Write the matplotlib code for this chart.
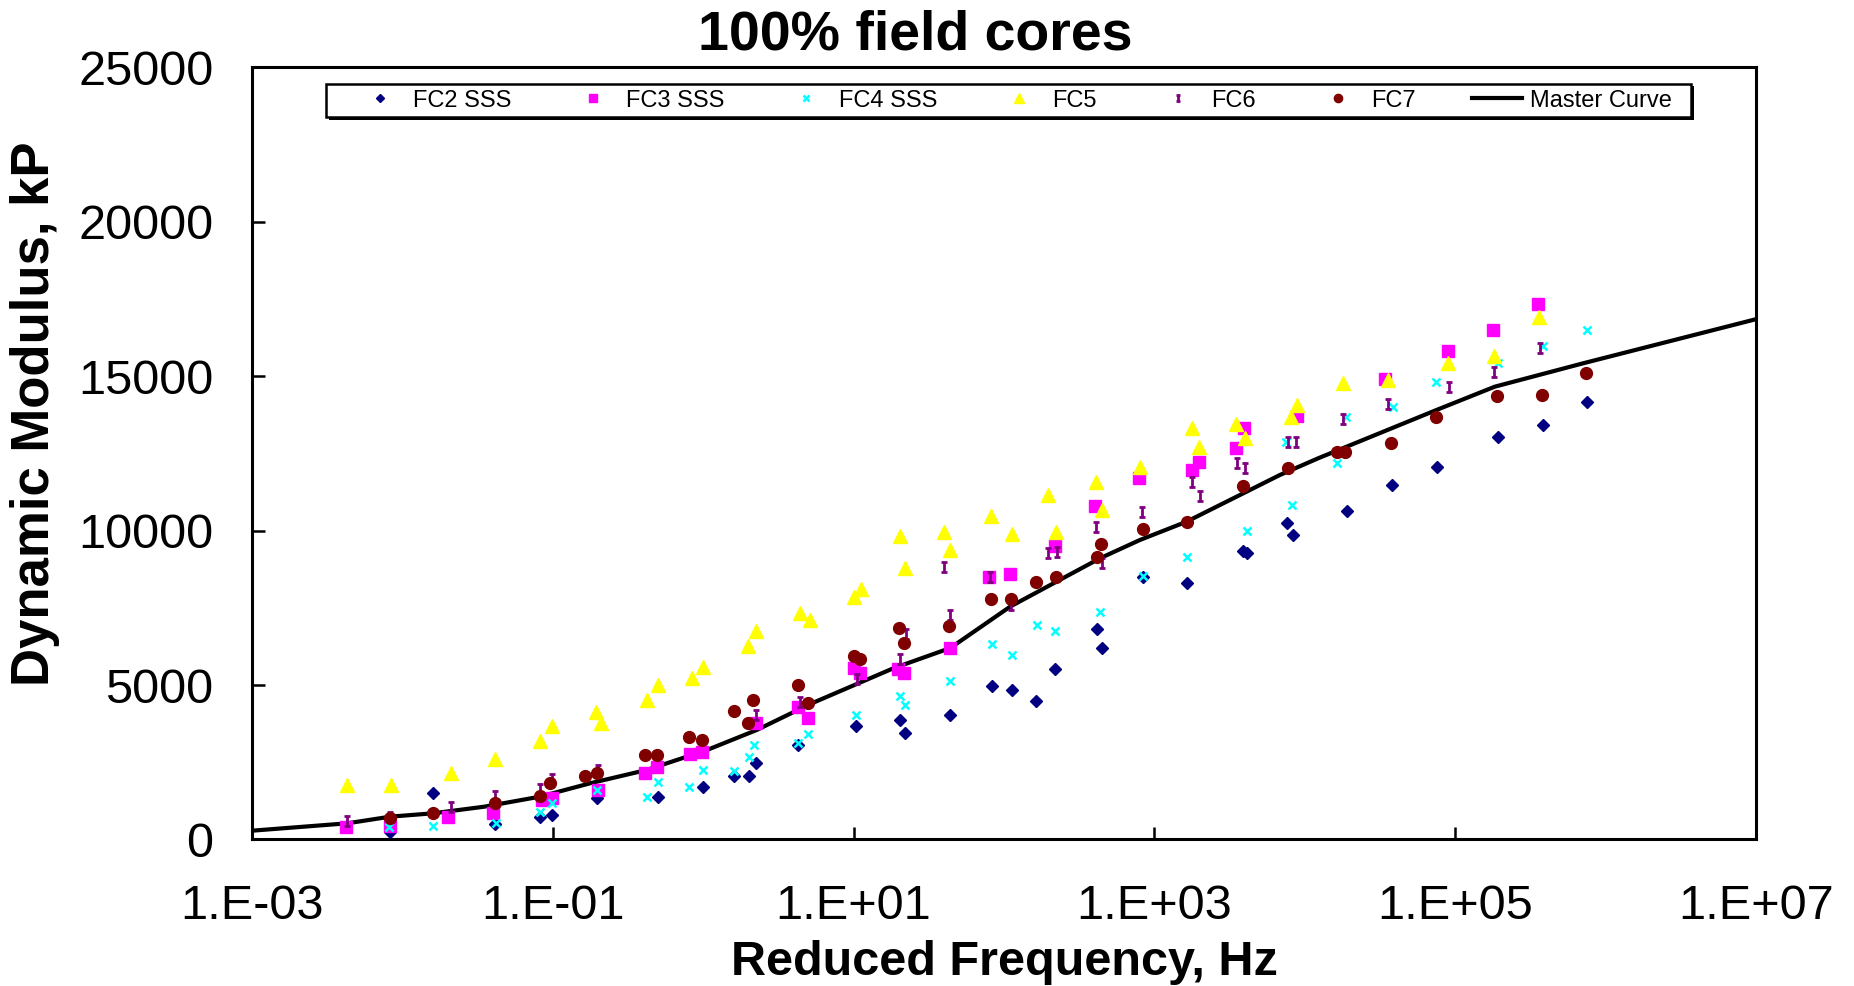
import numpy as np
import matplotlib
matplotlib.use("Agg")
import matplotlib.pyplot as plt
from matplotlib.path import Path
from matplotlib.patches import Rectangle
from matplotlib.ticker import FixedLocator, NullLocator, FuncFormatter

plt.rcParams['font.family'] = ['Liberation Sans', 'DejaVu Sans']

# --- data (reduced frequency in Hz, modulus in kP) ---
fc2_f = [0.0082, 0.016, 0.041, 0.082, 0.098, 0.196, 0.50, 1.0, 1.59, 2.03, 2.25, 4.3,
         10.3, 20.5, 22.0, 44, 83, 113, 164, 219, 414, 447, 838, 1660, 3870, 4150,
         7590, 8320, 19050, 38200, 76000, 193600, 385500, 760000]
fc2_e = [250, 1520, 490, 740, 790, 1330, 1390, 1690, 2060, 2060, 2470, 3060,
         3680, 3870, 3440, 4030, 4970, 4840, 4500, 5510, 6810, 6200, 8490, 8320, 9350, 9290,
         10260, 9860, 10650, 11480, 12070, 13020, 13420, 14180]

fc3_f = [0.0042, 0.0083, 0.020, 0.040, 0.085, 0.098, 0.20, 0.41, 0.49, 0.82, 0.98,
         2.24, 4.27, 5.0, 10.0, 11.1, 19.7, 21.7, 44, 80, 109, 219, 404, 794, 1775,
         1995, 3510, 3980, 8850, 34200, 90200, 177800, 357300]
fc3_e = [415, 450, 740, 850, 1280, 1330, 1600, 2140, 2360, 2770, 2820,
         3760, 4300, 3920, 5540, 5380, 5510, 5400, 6190, 8490, 8610, 9490, 10810, 11720, 11970,
         12230, 12670, 13320, 13720, 14900, 15830, 16500, 17340]

fc4_f = [0.0081, 0.016, 0.042, 0.082, 0.098, 0.196, 0.42, 0.50, 0.81, 1.0, 1.61, 2.03,
         2.18, 4.3, 5.0, 10.3, 20.5, 22.0, 44, 83, 113, 165, 219, 438, 838, 1660, 4110,
         7500, 8180, 16300, 18800, 38800, 75300, 193600, 385500, 757000]
fc4_e = [415, 450, 530, 900, 1180, 1600, 1370, 1870, 1710, 2250, 2230, 2680,
         3060, 3120, 3420, 4030, 4630, 4360, 5140, 6330, 5980, 6930, 6760, 7380, 8530, 9140, 9990,
         12880, 10830, 12180, 13690, 14020, 14830, 15420, 15980, 16500]

fc5_f = [0.0043, 0.0084, 0.021, 0.041, 0.082, 0.098, 0.194, 0.209, 0.42, 0.50,
         0.84, 0.99, 2.0, 2.24, 4.4, 5.1, 10.0, 11.2, 20.4, 22.0,
         40, 44, 82, 113, 197, 221, 409, 447, 804, 1775,
         1995, 3510, 4030, 8070, 8900, 17900, 36000, 90200, 181600, 363000]
fc5_e = [1765, 1765, 2160, 2590, 3180, 3660, 4140, 3760, 4520, 5000,
         5220, 5600, 6250, 6750, 7340, 7110, 7860, 8100, 9830, 8780,
         9970, 9380, 10480, 9900, 11170, 9970, 11590, 10670, 12050, 13340,
         12720, 13460, 12990, 13690, 14080, 14770, 14880, 15420, 15640, 16930]

fc6_f = [0.0043, 0.0083, 0.021, 0.041, 0.082, 0.098, 0.20, 2.24, 4.4, 10.6,
         20.5, 22.4, 40, 44, 81, 111, 197, 224, 409, 447,
         822, 1775, 2020, 3540, 4030, 7780, 8750, 18100, 36000, 91600, 182000, 366000]
fc6_e = [610, 740, 1060, 1410, 1630, 1950, 2250, 4030, 4460, 5190,
         5840, 6650, 8820, 7270, 8490, 7590, 9290, 9300, 10110, 8940,
         10600, 11590, 11120, 12200, 12020, 12880, 12880, 13610, 14090, 14660, 15150, 15910]

fc7_f = [0.0082, 0.016, 0.041, 0.082, 0.096, 0.164, 0.196, 0.41, 0.49, 0.80,
         0.98, 1.59, 2.0, 2.14, 4.3, 5.0, 10.0, 11.1, 19.9, 21.8,
         43, 82, 111, 164, 221, 418, 440, 838, 1640, 3910,
         7710, 16300, 18600, 37800, 74600, 190500, 376700, 743000]
fc7_e = [690, 850, 1170, 1410, 1820, 2060, 2160, 2740, 2740, 3330,
         3220, 4160, 3780, 4530, 5000, 4410, 5940, 5840, 6840, 6350,
         6910, 7780, 7780, 8350, 8490, 9160, 9560, 10050, 10290, 11450,
         12040, 12560, 12560, 12830, 13690, 14360, 14400, 15100]

mc_f = [0.001, 0.0043, 0.0083, 0.016, 0.035, 0.082, 0.177, 0.42, 1.06, 2.27, 5.15,
        18.4, 44, 110, 224, 436, 804, 1640, 6850, 12300, 75300, 184000, 713000, 1e7]
mc_e = [285, 524, 739, 848, 1062, 1386, 1820, 2250, 2898, 3546, 4388,
        5544, 6200, 7540, 8350, 9107, 9700, 10291, 11804, 12344, 13908, 14663, 15421, 16846]

xtick_vals = [1e-3, 1e-1, 1e1, 1e3, 1e5, 1e7]
ytick_vals = [0, 5000, 10000, 15000, 20000, 25000]

# "I" shaped marker like the Excel star at small size
i_marker = Path([(-0.6, 1), (0.6, 1), (0, 1), (0, -1), (-0.6, -1), (0.6, -1)],
                [Path.MOVETO, Path.LINETO, Path.MOVETO, Path.LINETO, Path.MOVETO, Path.LINETO])

fig = plt.figure(figsize=(18.54, 9.86), dpi=100)
ax = fig.add_axes([0.136, 0.1486, 0.811, 0.783])

ax.plot(fc2_f, fc2_e, ls='none', marker='D', ms=6, color='#000080', label='FC2 SSS', zorder=3)
ax.plot(fc3_f, fc3_e, ls='none', marker='s', ms=8, color='#FF00FF', label='FC3 SSS', zorder=3)
ax.plot(fc4_f, fc4_e, ls='none', marker='x', ms=6, mew=1.8, color='#00FFFF', label='FC4 SSS', zorder=3)
ax.plot(fc5_f, fc5_e, ls='none', marker='^', ms=10, color='#FFFF00', label='FC5', zorder=3)
ax.plot(fc6_f, fc6_e, ls='none', marker=i_marker, ms=7, mew=2, color='#800080',
        mfc='none', label='FC6', zorder=3)
ax.plot(fc7_f, fc7_e, ls='none', marker='o', ms=8.5, color='#800000', label='FC7', zorder=3)
ax.plot(mc_f, mc_e, color='black', lw=3, label='Master Curve', zorder=2)

ax.set_xscale('log')
ax.set_xlim(1e-3, 1e7)
ax.set_ylim(0, 25000)
ax.xaxis.set_major_locator(FixedLocator(xtick_vals))
ax.xaxis.set_minor_locator(NullLocator())
ax.xaxis.set_major_formatter(FuncFormatter(lambda v, p: '1.E{:+03d}'.format(int(round(np.log10(v))))))
ax.set_yticks(ytick_vals)

ax.tick_params(axis='both', direction='in', length=9, width=1.8, labelsize=35)
ax.tick_params(axis='x', pad=32)
ax.tick_params(axis='y', pad=28)
for s in ax.spines.values():
    s.set_linewidth(2.2)

# chart title is centred over the whole figure, as Excel does
fig.text(0.4936, 0.964, '100% field cores', fontsize=40, fontweight='bold', ha='center', va='center')
ax.set_xlabel('Reduced Frequency, Hz', fontsize=35, fontweight='bold')
ax.set_ylabel('Dynamic Modulus, kP', fontsize=38, fontweight='bold')
ax.xaxis.set_label_coords(0.5, -0.13)
ax.yaxis.set_label_coords(-0.128, 0.551)

# legend box drawn by hand (Excel pads the entries more than matplotlib does)
ax.add_patch(Rectangle((0.0513, 0.9325), 0.9075, 0.0431, transform=ax.transAxes,
                       facecolor='black', edgecolor='none', zorder=4, clip_on=False))
ax.add_patch(Rectangle((0.0493, 0.9356), 0.9075, 0.0431, transform=ax.transAxes,
                       facecolor='white', edgecolor='black', lw=1.8, zorder=4, clip_on=False))
leg = ax.legend(loc='center left', bbox_to_anchor=(0.0684, 0.957, 0.876, 0.0), mode='expand',
                ncol=7, fontsize=17, frameon=False, borderpad=0, borderaxespad=0,
                handlelength=2.1, handletextpad=0.35, markerscale=0.7)
leg.set_zorder(5)

fig.savefig('out.png', dpi=100)
